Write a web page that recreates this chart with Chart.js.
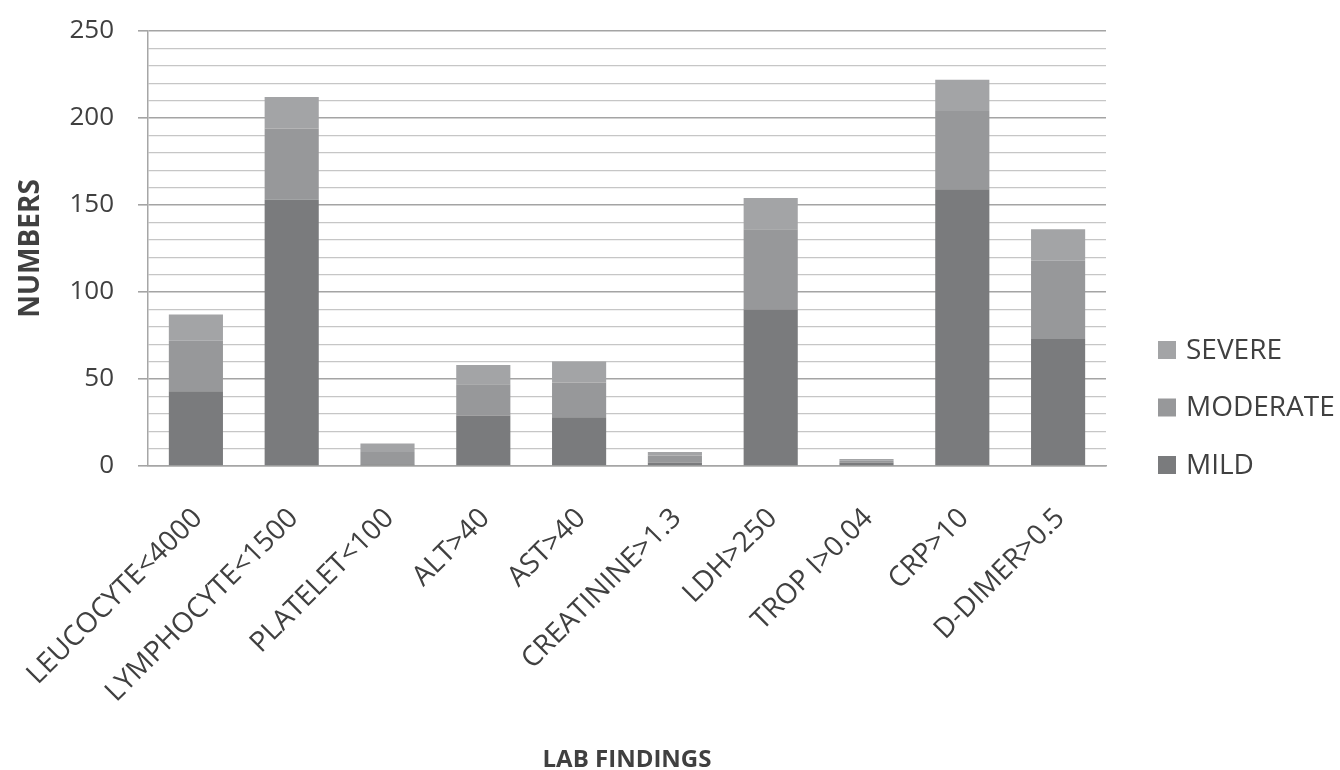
<!DOCTYPE html>
<html>
<head>
<meta charset="utf-8">
<script src="https://cdn.jsdelivr.net/npm/chart.js@4.4.1/dist/chart.umd.min.js"></script>
<style>
  html, body { margin: 0; padding: 0; background: #ffffff; }
  #wrap { width: 1340px; height: 770px; }
</style>
</head>
<body>
<div id="wrap"><canvas id="chart" width="1340" height="770"></canvas></div>
<script>
// Lab findings by severity group (stacked counts)
const categories = ['LEUCOCYTE<4000', 'LYMPHOCYTE<1500', 'PLATELET<100', 'ALT>40', 'AST>40',
                    'CREATININE>1.3', 'LDH>250', 'TROP I>0.04', 'CRP>10', 'D-DIMER>0.5'];
const mild     = [43, 153, 1, 29, 28, 2, 90, 2, 159, 73];
const moderate = [29,  41, 7, 18, 20, 4, 46, 1,  45, 45];
const severe   = [15,  18, 5, 11, 12, 2, 18, 1,  18, 18];
const seriesNames = ['MILD', 'MODERATE', 'SEVERE'];
const yTickLabels = [0, 50, 100, 150, 200, 250];

const FONT = '"Open Sans", "DejaVu Sans", sans-serif';
const TEXT = '#404040';
const COLORS = ['#7a7b7d', '#97989a', '#a3a4a6'];

// Legend drawn on the right, topmost series first
const sideLegend = {
  id: 'sideLegend',
  afterDraw(chart) {
    const ctx = chart.ctx;
    const items = chart.data.datasets.map(d => ({ text: d.label, color: d.backgroundColor })).reverse();
    ctx.save();
    ctx.font = '28px ' + FONT;
    ctx.textAlign = 'left';
    ctx.textBaseline = 'middle';
    items.forEach((it, k) => {
      const cy = 350 + k * 57.5;
      ctx.fillStyle = it.color;
      ctx.fillRect(1158, cy - 9, 18, 18);
      ctx.fillStyle = TEXT;
      ctx.fillText(it.text, 1186, cy + 1);
    });
    ctx.restore();
  }
};

new Chart(document.getElementById('chart'), {
  type: 'bar',
  data: {
    labels: categories,
    datasets: [
      { label: seriesNames[0], data: mild,     backgroundColor: COLORS[0] },
      { label: seriesNames[1], data: moderate, backgroundColor: COLORS[1] },
      { label: seriesNames[2], data: severe,   backgroundColor: COLORS[2] }
    ]
  },
  options: {
    responsive: false,
    animation: false,
    devicePixelRatio: 1,
    layout: { padding: { top: 31, right: 234, left: 0, bottom: 0 } },
    datasets: { bar: { categoryPercentage: 1.0, barPercentage: 0.565, borderWidth: 0 } },
    plugins: {
      legend: { display: false },
      tooltip: { enabled: false }
    },
    scales: {
      x: {
        stacked: true,
        grid: { display: false, drawTicks: false },
        border: { display: true, color: '#a6a6a6', width: 1.5 },
        ticks: {
          autoSkip: false,
          minRotation: 45,
          maxRotation: 45,
          padding: 36,
          labelOffset: 2,
          color: TEXT,
          font: { family: FONT, size: 28 }
        },
        title: {
          display: true,
          text: 'LAB FINDINGS',
          color: TEXT,
          font: { family: FONT, size: 24, weight: 'bold' },
          padding: { top: 0, bottom: -5 }
        },
        afterFit(scale) {
          scale.height = 304;
          scale.paddingLeft = 0;
          scale.paddingRight = 0;
        }
      },
      y: {
        stacked: true,
        min: 0,
        max: 250,
        afterBuildTicks(scale) {
          // minor gridlines every 10, labels only on the major values
          const t = [];
          for (let v = 0; v <= 250; v += 10) t.push({ value: v });
          scale.ticks = t;
        },
        grid: {
          color: ctx => (yTickLabels.includes(ctx.tick.value) ? '#a4a4a4' : '#c6c6c6'),
          lineWidth: ctx => (yTickLabels.includes(ctx.tick.value) ? 1.6 : 1.3),
          tickColor: ctx => (yTickLabels.includes(ctx.tick.value) ? '#a4a4a4' : 'rgba(0,0,0,0)'),
          tickLength: 10
        },
        border: { display: true, color: '#a6a6a6', width: 1.5 },
        ticks: {
          autoSkip: false,
          padding: 24,
          color: TEXT,
          font: { family: FONT, size: 26 },
          callback: v => (yTickLabels.includes(v) ? String(v) : '')
        },
        title: {
          display: true,
          text: 'NUMBERS',
          color: TEXT,
          font: { family: FONT, size: 28, weight: 'bold' },
          padding: { top: 14, bottom: 0 }
        },
        afterFit(scale) {
          scale.width = 148;
          scale.paddingTop = 0;
          scale.paddingBottom = 0;
        }
      }
    }
  },
  plugins: [sideLegend]
});
</script>
</body>
</html>
